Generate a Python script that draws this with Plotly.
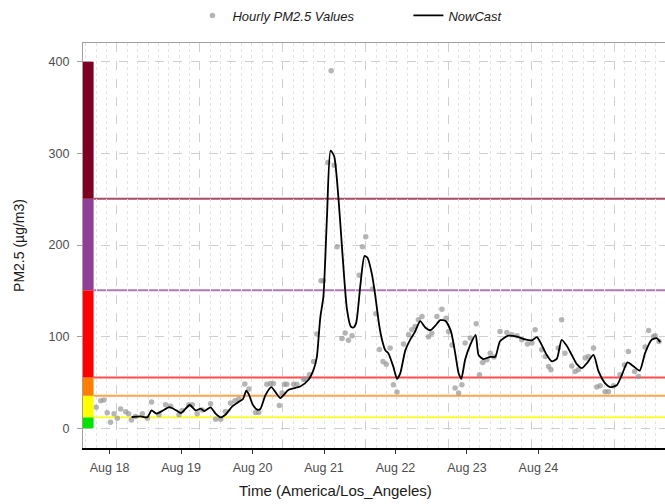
import plotly.graph_objects as go

# ---- data (hours since Aug 18 00:00, America/Los_Angeles) ----
hourly_hours = [-4.5, -3, -1.9, -0.8, 0.3, 1.5, 2.6, 3.7, 5.4, 6.4, 7.3, 8.7, 11, 12.7, 14.1, 16.6,
                18.8, 20.5, 23.3, 24.4, 26.6, 27.8, 29.4, 31.1, 33.9, 35.6, 37.3, 38.9, 40.6, 42.1,
                43.4, 45.4, 46.8, 49, 50.1, 52.8, 54, 55, 57, 57.9, 58.7, 59.5, 61.8, 62.9, 65.1,
                65.7, 67.1, 68.5, 69.6, 71, 71.8, 73.3, 74.4, 75.4, 76.4, 78, 79.1, 80.2, 81.4,
                83.8, 84.9, 86, 88.3, 89.4, 90.6, 91.8, 92.9, 94.2, 95.3, 96.5, 98.7, 100.4, 101.5,
                102.6, 103.7, 104.9, 107.1, 108.2, 109.9, 111.6, 113, 113.8, 115, 116, 117.2, 118.3,
                119.4, 121.1, 123.1, 124.2, 125.3, 126.7, 127.8, 129.1, 131.1, 133.4, 135.1, 136.8,
                138.4, 140.3, 141.8, 142.9, 145.1, 146.3, 147.4, 148.2, 150.7, 151.8, 152.9, 155.2,
                156.3, 157.4, 159.7, 160.8, 162.5, 163.6, 164.7, 166.4, 167.5, 169.2, 171.4, 172.9,
                174.2, 176.3, 177.6, 179.8, 181, 182.6, 183.2, 184.5]
hourly_values = [23, 30, 31, 17, 6.5, 16, 11, 21, 18, 16, 9, 13, 16, 11, 28.6, 14.8,
                 25.7, 24, 14.8, 19.5, 25.7, 25.7, 16, 20, 26.8, 10, 10, 18.4, 27.5, 30,
                 32, 48.2, 42.8, 17.3, 17.3, 48, 49, 49, 25, 38.4, 48, 48, 48, 48, 53.5,
                 53.5, 58.4, 73, 103, 161, 161, 290, 390, 287, 198, 98, 104, 96, 101,
                 167, 198, 209, 152, 125, 86, 73, 70, 87.5, 47.5, 39.5, 92, 102, 107.4,
                 111, 118.3, 122, 100, 103.8, 122, 130, 120, 105.6, 91, 44, 38.4, 47.5,
                 93, 98.4, 114, 58.4, 71.8, 74.7, 82, 77.7, 105.6, 104.5, 102, 101,
                 96.5, 92, 93, 107.4, 85.6, 78.3, 67.4, 63.8, 87.5, 118.3, 82, 68,
                 62, 63.8, 76.6, 78.3, 87.5, 45, 46.4, 40, 40, 46.4, 58.4, 69,
                 83.8, 62, 56.5, 88.6, 106.6, 100, 101, 94.7]

nowcast_hours = [7.4, 10.4, 12.7, 14.1, 15.7, 17.7, 20.1, 22.4, 24.0, 26.9, 28.9, 30.6, 31.8, 33.9,
                 35.6, 37.3, 38.9, 41.2, 43.4, 44.8, 45.9, 46.8, 48.1, 49.6, 50.6, 52.3, 54.3,
                 57.3, 60.1, 64.0, 66.8, 68.5, 69.6, 70.3, 70.8, 71.8, 73.0, 74.2, 75.4, 76.9,
                 78.2, 79.7, 81.0, 81.9, 82.8, 84.2, 85.6, 86.6, 88.1, 89.2, 90.5, 91.6, 92.6,
                 93.6, 95.3, 96.5, 97.6, 99.3, 100.9, 102.5, 104.3, 106.0, 107.7, 109.4, 111.0,
                 112.8, 114.6, 116.0, 117.2, 118.1, 119.4, 121.1, 122.9, 123.9, 125.5, 127.8,
                 129.5, 131.1, 133.9, 136.8, 139.5, 141.8, 143.5, 145.1, 146.8, 148.5, 150.2,
                 151.8, 153.5, 155.2, 156.9, 158.6, 160.5, 162.5, 164.2, 166.4, 168.1, 170.3,
                 172.0, 173.9, 175.8, 178.0, 179.8, 182.0, 183.7, 184.9]
nowcast_values = [12.3, 13, 12, 19.5, 16, 19, 23, 19.5, 16.7, 25.4, 19.5, 21.4, 18.8, 22.8,
                  16, 12, 14.8, 24, 29, 32, 41, 36.6, 25.7, 20.3, 21, 36, 45,
                  33, 42, 45.6, 53, 64, 78, 104, 122, 144, 231, 303, 297, 249,
                  190, 130, 111, 110, 115, 156, 188, 186, 168, 145, 113, 95, 85,
                  82, 67, 54, 60, 85, 96.5, 105, 117, 110, 107, 112, 118,
                  117, 106, 83, 60, 54, 75, 91, 102, 80, 75.5, 78,
                  78, 95, 101, 100, 97, 96, 99.4, 91, 80, 73, 76,
                  96.5, 90, 80, 70, 65.7, 72, 80, 62, 49, 45, 47,
                  58, 72, 68, 63, 82, 96.5, 98.4, 94]

tick_hours = [0, 24, 48, 72, 96, 120, 144]
tick_labels = ["Aug 18", "Aug 19", "Aug 20", "Aug 21", "Aug 22", "Aug 23", "Aug 24"]

# AQI categories (PM2.5 breakpoints)
aqi_breaks = [0, 12, 35.5, 55.5, 150.5, 250.5, 400]
aqi_colors = ["#00E400", "#FFFF00", "#FF7E00", "#FF0000", "#8F3F97", "#7E0023"]
aqi_line_colors = ["rgba(255,255,0,0.85)", "rgba(255,126,0,0.7)", "rgba(255,0,0,0.7)",
                   "rgba(143,63,151,0.7)", "rgba(126,0,35,0.7)"]

FONT = "Liberation Sans, Arial, sans-serif"

fig = go.Figure()

fig.add_trace(go.Scatter(
    x=hourly_hours, y=hourly_values, mode="markers", name="Hourly PM2.5 Values",
    marker=dict(size=5.5, color="rgba(150,150,150,0.7)", line=dict(width=0)),
))
fig.add_trace(go.Scatter(
    x=nowcast_hours, y=nowcast_values, mode="lines", name="NowCast",
    line=dict(color="black", width=1.8, shape="spline", smoothing=0.6),
))
# carrier for the grid-only overlay axis
fig.add_trace(go.Scatter(x=[None], y=[None], xaxis="x2", showlegend=False, hoverinfo="skip"))

bar_w = 0.0182
shapes = []
for i, c in enumerate(aqi_colors):
    shapes.append(dict(type="rect", xref="x domain", yref="y", x0=0, x1=bar_w,
                       y0=aqi_breaks[i], y1=aqi_breaks[i + 1], fillcolor=c,
                       line=dict(width=0), layer="above"))
for i, c in enumerate(aqi_line_colors):
    shapes.append(dict(type="line", xref="x domain", yref="y", x0=bar_w, x1=1,
                       y0=aqi_breaks[i + 1], y1=aqi_breaks[i + 1],
                       line=dict(color=c, width=2), layer="below"))

fig.update_layout(
    width=665, height=504,
    margin=dict(l=83, r=0, t=43, b=56),
    paper_bgcolor="white", plot_bgcolor="white",
    font=dict(family=FONT, size=12.5, color="#4d4d4d"),
    shapes=shapes,
    showlegend=True,
    legend=dict(orientation="h", x=0.188, y=1.105, xanchor="left", yanchor="top",
                font=dict(family=FONT, size=13, color="#1a1a1a", style="italic"),
                entrywidth=171, entrywidthmode="pixels",
                bgcolor="rgba(0,0,0,0)"),
    xaxis=dict(range=[-8.93, 186.5], tickmode="array", tickvals=tick_hours, ticktext=tick_labels,
               automargin=False,
               showgrid=False, zeroline=False, showline=True, linecolor="black", linewidth=1.5,
               ticks="outside", ticklen=4, tickcolor="#333333", tickwidth=1,
               ticklabelstandoff=3,
               tickfont=dict(family=FONT, size=12.5, color="#4d4d4d")),
    xaxis2=dict(overlaying="x", side="top", anchor="y", range=[-0.41, 6.61],
                automargin=False,
                showticklabels=False, ticks="", zeroline=False,
                showline=True, linecolor="#a0a0a0", linewidth=1.2,
                showgrid=True, gridcolor="#cfcfcf", griddash="dash", gridwidth=1,
                tick0=0, dtick=1,
                minor=dict(dtick=0.125, tick0=0, showgrid=True, gridcolor="#e4e4e4",
                           griddash="dot", gridwidth=1)),
    yaxis=dict(range=[-21.5, 420.4], tickmode="array", tickvals=[0, 100, 200, 300, 400],
               automargin=False,
               showgrid=True, gridcolor="#cfcfcf", griddash="dash", gridwidth=1,
               zeroline=False, showline=True, linecolor="#a0a0a0", linewidth=1.2,
               ticks="outside", ticklen=5, tickcolor="#a0a0a0",
               ticklabelstandoff=5,
               tickfont=dict(family=FONT, size=12.5, color="#4d4d4d"),
               title=dict(text="PM2.5 (µg/m3)", standoff=20,
                          font=dict(family=FONT, size=14, color="#1a1a1a"))),
    annotations=[dict(text="Time (America/Los_Angeles)", xref="paper", yref="paper",
                      x=0.434, y=-0.105, xanchor="center", yanchor="middle", showarrow=False,
                      font=dict(family=FONT, size=15, color="#1a1a1a"))],
)

fig.write_html("out.html", config={"displayModeBar": False},
               post_script="document.body.style.margin='0px';")
